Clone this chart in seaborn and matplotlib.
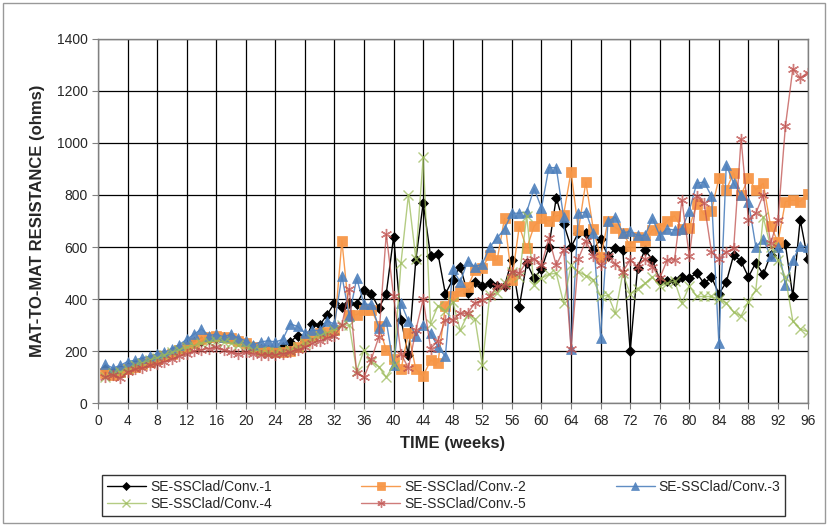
import numpy as np
import pandas as pd
import matplotlib
matplotlib.use("Agg")
import matplotlib.pyplot as plt
import seaborn as sns

# weeks 1..96
weeks = list(range(1, 97))

conv1 = [130, 120, 130, 140, 150, 160, 165, 175, 185, 195,
         210, 220, 235, 240, 245, 250, 255, 250, 240, 235,
         220, 210, 205, 200, 215, 235, 260, 240, 305, 300,
         340, 385, 370, 385, 380, 435, 420, 365, 420, 640,
         320, 185, 550, 770, 565, 575, 420, 475, 525, 425,
         465, 450, 460, 450, 450, 550, 370, 540, 480, 515,
         600, 790, 690, 600, 655, 655, 590, 630, 565, 595,
         590, 200, 520, 590, 550, 475, 470, 470, 485, 480,
         500, 460, 485, 420, 465, 570, 545, 485, 540, 495,
         570, 600, 610, 410, 705, 555]

conv2 = [115, 110, 120, 130, 140, 150, 160, 170, 180, 190,
         205, 215, 230, 245, 255, 260, 255, 250, 240, 230,
         215, 205, 200, 195, 195, 200, 215, 240, 260, 270,
         275, 280, 625, 340, 340, 360, 360, 295, 205, 170,
         130, 270, 130, 105, 165, 155, 375, 410, 430, 445,
         510, 520, 570, 550, 710, 475, 680, 595, 680, 710,
         700, 720, 725, 890, 665, 850, 670, 560, 700, 675,
         655, 605, 640, 625, 665, 675, 700, 720, 670, 675,
         765, 725, 740, 865, 820, 885, 800, 865, 820, 845,
         680, 620, 775, 780, 775, 805]

conv3 = [150, 135, 145, 160, 165, 175, 180, 190, 195, 210,
         225, 245, 265, 285, 260, 265, 255, 265, 250, 240,
         225, 235, 240, 235, 245, 305, 295, 270, 280, 280,
         315, 305, 490, 335, 480, 380, 380, 290, 315, 145,
         385, 315, 260, 300, 270, 215, 180, 515, 465, 545,
         525, 535, 600, 635, 670, 730, 730, 735, 825, 750,
         905, 905, 715, 210, 730, 735, 655, 250, 700, 715,
         655, 660, 645, 645, 710, 645, 670, 665, 670, 740,
         845, 850, 795, 230, 915, 845, 800, 775, 600, 630,
         565, 600, 455, 550, 605, 600]

conv4 = [100, 115, 120, 130, 145, 155, 165, 175, 185, 195,
         205, 215, 220, 230, 235, 240, 235, 230, 225, 215,
         205, 200, 195, 195, 200, 205, 215, 230, 245, 260,
         270, 280, 300, 300, 125, 205, 160, 140, 100, 145,
         540, 800, 555, 945, 305, 375, 355, 390, 280, 340,
         325, 145, 415, 425, 460, 505, 485, 720, 455, 480,
         495, 500, 385, 530, 505, 490, 475, 410, 415, 345,
         500, 420, 440, 460, 485, 450, 460, 470, 385, 450,
         410, 410, 410, 400, 385, 350, 335, 390, 435, 715,
         600, 550, 485, 315, 285, 275]

conv5 = [100, 110, 95, 120, 130, 135, 145, 150, 160, 170,
         180, 190, 200, 205, 210, 215, 205, 195, 190, 195,
         190, 185, 185, 185, 190, 195, 205, 215, 230, 240,
         250, 260, 300, 440, 115, 100, 170, 255, 650, 410,
         190, 135, 280, 400, 210, 240, 320, 320, 345, 345,
         385, 395, 410, 450, 450, 505, 500, 545, 555, 530,
         635, 530, 590, 210, 555, 625, 565, 530, 565, 535,
         505, 550, 525, 555, 525, 480, 550, 550, 780, 565,
         795, 770, 580, 555, 580, 595, 1015, 705, 730, 800,
         615, 705, 1065, 1285, 1250, 1270]

series_names = ["SE-SSClad/Conv.-1", "SE-SSClad/Conv.-2", "SE-SSClad/Conv.-3",
                "SE-SSClad/Conv.-4", "SE-SSClad/Conv.-5"]
series_values = [conv1, conv2, conv3, conv4, conv5]

colors = ["#000000", "#F79646", "#4F81BD", "#9BBB59", "#C0504D"]
markers = ["D", "s", "^", "x", (6, 2, 0)]
msizes = [5, 7, 7, 7, 8]
alphas = [1.0, 0.95, 0.9, 0.75, 0.75]

rows = []
for name, vals in zip(series_names, series_values):
    for w, v in zip(weeks, vals):
        rows.append({"week": w, "ohms": v, "series": name})
df = pd.DataFrame(rows)

sns.set_style("white")
plt.rcParams["font.family"] = ["Liberation Sans", "DejaVu Sans"]

fig = plt.figure(figsize=(8.3, 5.25), dpi=100)
ax = fig.add_axes([0.118, 0.232, 0.855, 0.694])

for i, name in enumerate(series_names):
    sub = df[df["series"] == name]
    sns.lineplot(data=sub, x="week", y="ohms", ax=ax, color=colors[i],
                 marker=markers[i], markersize=msizes[i], linewidth=1.0,
                 markeredgecolor=colors[i], markeredgewidth=1.0 if i >= 3 else 0.5,
                 alpha=alphas[i], label=name, estimator=None)

ax.set_xlim(0, 96)
ax.set_ylim(0, 1400)
ax.set_xticks(range(0, 97, 4))
ax.set_yticks(range(0, 1401, 200))
ax.grid(True, color="black", linewidth=0.9)
ax.set_axisbelow(True)
for s in ax.spines.values():
    s.set_color("#808080")
    s.set_linewidth(1.0)
ax.tick_params(axis="both", labelsize=10, length=4, direction="out",
               color="#808080", bottom=True, left=True)

ax.set_xlabel("TIME (weeks)", fontsize=12, fontweight="bold", labelpad=6)
ax.set_ylabel("MAT-TO-MAT RESISTANCE (ohms)", fontsize=12, fontweight="bold", labelpad=8)

# legend filled row by row like the original (1 2 3 / 4 5)
handles, labels = ax.get_legend_handles_labels()
order = [0, 3, 1, 4, 2]
leg = ax.legend([handles[k] for k in order], [labels[k] for k in order],
                loc="upper left", bbox_to_anchor=(0.1145, 0.1086, 0.84, 0.0),
                bbox_transform=fig.transFigure, mode="expand",
                ncol=3, fontsize=10, frameon=True, fancybox=False,
                edgecolor="black", handlelength=2.8, markerscale=0.75,
                borderpad=0.35, labelspacing=0.25, handletextpad=0.3)
leg.get_frame().set_linewidth(1.0)

# outer chart border
fig.patches.append(plt.Rectangle((0.004, 0.004), 0.99, 0.99, transform=fig.transFigure,
                                 fill=False, edgecolor="#999999", linewidth=1.0))

fig.savefig("out.png", dpi=100)
